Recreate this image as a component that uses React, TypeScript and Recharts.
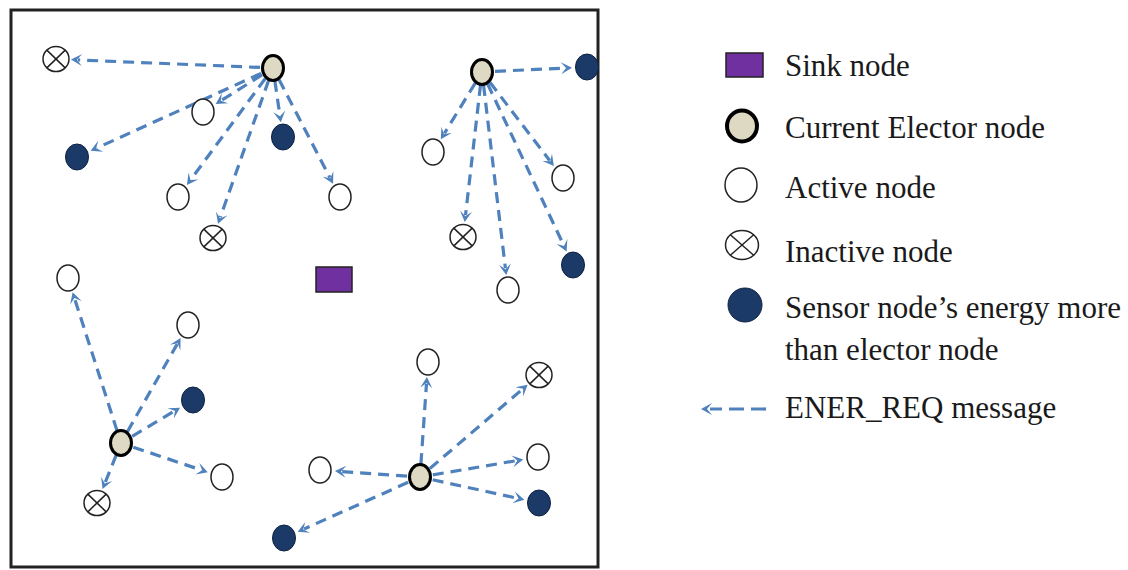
import React from 'react';
import { ScatterChart, Scatter, XAxis, YAxis, ReferenceLine, ReferenceArea, Legend } from 'recharts';

type Pt = { x: number; y: number };

// Diagram coordinate space: x to the right, y downward (0..1128, 0..570)
const sinkNodes: Pt[] = [{ x: 334, y: 279 }];
const electorNodes: Pt[] = [
  { x: 273, y: 68 },
  { x: 482, y: 72 },
  { x: 121, y: 443 },
  { x: 420, y: 477 },
];
const activeNodes: Pt[] = [
  { x: 203, y: 112 },
  { x: 178, y: 197 },
  { x: 340, y: 197 },
  { x: 433, y: 152 },
  { x: 563, y: 178 },
  { x: 508, y: 290 },
  { x: 68, y: 278 },
  { x: 188, y: 325 },
  { x: 222, y: 477 },
  { x: 428, y: 362 },
  { x: 538, y: 457 },
  { x: 320, y: 470 },
];
const inactiveNodes: Pt[] = [
  { x: 56, y: 59 },
  { x: 213, y: 238 },
  { x: 463, y: 237 },
  { x: 97, y: 503 },
  { x: 539, y: 375 },
];
const sensorNodes: Pt[] = [
  { x: 77, y: 157 },
  { x: 283, y: 137 },
  { x: 587, y: 67 },
  { x: 573, y: 265 },
  { x: 193, y: 400 },
  { x: 539, y: 503 },
  { x: 284, y: 538 },
];

// ENER_REQ messages: from an elector node to a neighbour
const messages: { from: number; to: Pt }[] = [
  { from: 0, to: inactiveNodes[0] },
  { from: 0, to: activeNodes[0] },
  { from: 0, to: sensorNodes[0] },
  { from: 0, to: sensorNodes[1] },
  { from: 0, to: activeNodes[1] },
  { from: 0, to: inactiveNodes[1] },
  { from: 0, to: activeNodes[2] },
  { from: 1, to: sensorNodes[2] },
  { from: 1, to: activeNodes[3] },
  { from: 1, to: inactiveNodes[2] },
  { from: 1, to: activeNodes[5] },
  { from: 1, to: activeNodes[4] },
  { from: 1, to: sensorNodes[3] },
  { from: 2, to: activeNodes[6] },
  { from: 2, to: activeNodes[7] },
  { from: 2, to: sensorNodes[4] },
  { from: 2, to: activeNodes[8] },
  { from: 2, to: inactiveNodes[3] },
  { from: 3, to: activeNodes[9] },
  { from: 3, to: inactiveNodes[4] },
  { from: 3, to: activeNodes[10] },
  { from: 3, to: sensorNodes[5] },
  { from: 3, to: activeNodes[11] },
  { from: 3, to: sensorNodes[6] },
];

const legendLabels = [
  'Sink node',
  'Current Elector node',
  'Active node',
  'Inactive node',
  'Sensor node\u2019s energy more',
  'than elector node',
  'ENER_REQ message',
];

const frameX: [number, number] = [11, 598];
const frameY: [number, number] = [10, 567];

const W = 1128;
const H = 570;

const ARROW = '#4F81BD';
const PURPLE = '#7030A0';
const TAN = '#DDD9C3';
const NAVY = '#1B3A68';
const INK = '#222';

const activeShape = (p: any) => (
  <ellipse cx={p.cx} cy={p.cy} rx={11} ry={13} fill="#fff" stroke={INK} strokeWidth={1.5} />
);
const electorShape = (p: any) => (
  <ellipse cx={p.cx} cy={p.cy} rx={10.5} ry={12.5} fill={TAN} stroke="#000" strokeWidth={3} />
);
const sensorShape = (p: any) => (
  <ellipse cx={p.cx} cy={p.cy} rx={11.5} ry={13} fill={NAVY} stroke="#0e2242" strokeWidth={1} />
);
const inactiveIcon = (cx: number, cy: number, rx: number, ry: number) => {
  const k = Math.SQRT1_2;
  return (
    <g>
      <ellipse cx={cx} cy={cy} rx={rx} ry={ry} fill="#fff" stroke={INK} strokeWidth={1.5} />
      <line x1={cx - rx * k} y1={cy - ry * k} x2={cx + rx * k} y2={cy + ry * k} stroke={INK} strokeWidth={1.5} />
      <line x1={cx - rx * k} y1={cy + ry * k} x2={cx + rx * k} y2={cy - ry * k} stroke={INK} strokeWidth={1.5} />
    </g>
  );
};
const inactiveShape = (p: any) => inactiveIcon(p.cx, p.cy, 13, 12.5);
const sinkShape = (p: any) => (
  <rect x={p.cx - 18} y={p.cy - 12} width={36} height={25} fill={PURPLE} stroke={INK} strokeWidth={1.5} />
);

const arrowHead = (tx: number, ty: number, ux: number, uy: number) => {
  const hl = 11;
  const hw = 6;
  const nx = -uy;
  const ny = ux;
  const bx = tx - ux * hl;
  const by = ty - uy * hl;
  const mx = tx - ux * 6;
  const my = ty - uy * 6;
  return (
    <polygon
      points={`${tx},${ty} ${bx + nx * hw},${by + ny * hw} ${mx},${my} ${bx - nx * hw},${by - ny * hw}`}
      fill={ARROW}
    />
  );
};

const arrowShape = (p: any) => {
  const { x1, y1, x2, y2 } = p;
  const dx = x2 - x1;
  const dy = y2 - y1;
  const len = Math.hypot(dx, dy) || 1;
  const ux = dx / len;
  const uy = dy / len;
  const sx = x1 + ux * 13;
  const sy = y1 + uy * 13;
  const tx = x2 - ux * 15;
  const ty = y2 - uy * 15;
  return (
    <g>
      <line
        x1={sx}
        y1={sy}
        x2={tx - ux * 7}
        y2={ty - uy * 7}
        stroke={ARROW}
        strokeWidth={3.2}
        strokeDasharray="11 7"
      />
      {arrowHead(tx, ty, ux, uy)}
    </g>
  );
};

const T = (props: { x: number; y: number; children: React.ReactNode }) => (
  <text x={props.x} y={props.y} style={{ fontFamily: 'Liberation Serif', fontSize: 31, fill: '#1a1a1a' }}>
    {props.children}
  </text>
);

const renderLegend = () => (
  <svg width={W} height={H} style={{ position: 'absolute', left: 0, top: 0, overflow: 'visible', fontFamily: 'Liberation Serif' }}>
    <rect x={726} y={53} width={37} height={24} fill={PURPLE} stroke={INK} strokeWidth={1.5} />
    <T x={785} y={76}>{legendLabels[0]}</T>

    <ellipse cx={742} cy={126} rx={15} ry={15.5} fill={TAN} stroke="#000" strokeWidth={4} />
    <T x={785} y={138}>{legendLabels[1]}</T>

    <ellipse cx={741} cy={185} rx={16} ry={17} fill="#fff" stroke={INK} strokeWidth={1.5} />
    <T x={785} y={198}>{legendLabels[2]}</T>

    {inactiveIcon(742, 245, 16.5, 14.5)}
    <T x={785} y={262}>{legendLabels[3]}</T>

    <ellipse cx={745} cy={305} rx={17} ry={17} fill={NAVY} stroke="#0e2242" strokeWidth={1} />
    <T x={785} y={318}>{legendLabels[4]}</T>
    <T x={785} y={360}>{legendLabels[5]}</T>

    <line x1={766} y1={409} x2={710} y2={409} stroke={ARROW} strokeWidth={3.2} strokeDasharray="15 7" />
    {arrowHead(701, 409, -1, 0)}
    <T x={785} y={418}>{legendLabels[6]}</T>
  </svg>
);

export default function App() {
  return (
    <div style={{ position: 'absolute', left: 0, top: 0, width: W, height: H, background: '#fff', fontFamily: 'Liberation Serif' }}>
      <ScatterChart width={W} height={H} margin={{ top: 0, right: 0, bottom: 0, left: 0 }}>
        <XAxis type="number" dataKey="x" domain={[0, W]} hide allowDataOverflow />
        <YAxis type="number" dataKey="y" domain={[0, H]} reversed hide allowDataOverflow />
        <ReferenceArea
          x1={frameX[0]}
          x2={frameX[1]}
          y1={frameY[0]}
          y2={frameY[1]}
          fill="none"
          fillOpacity={0}
          stroke="#222"
          strokeWidth={3}
          ifOverflow="visible"
        />
        {messages.map((m, i) => (
          <ReferenceLine
            key={i}
            segment={[electorNodes[m.from], m.to]}
            ifOverflow="visible"
            shape={arrowShape}
          />
        ))}
        <Scatter name="Sink node" data={sinkNodes} shape={sinkShape} isAnimationActive={false} />
        <Scatter name="Current Elector node" data={electorNodes} shape={electorShape} isAnimationActive={false} />
        <Scatter name="Active node" data={activeNodes} shape={activeShape} isAnimationActive={false} />
        <Scatter name="Inactive node" data={inactiveNodes} shape={inactiveShape} isAnimationActive={false} />
        <Scatter name="Sensor node" data={sensorNodes} shape={sensorShape} isAnimationActive={false} />
        <Legend
          layout="vertical"
          align="center"
          verticalAlign="middle"
          content={renderLegend}
          wrapperStyle={{ left: 0, top: 0, width: W, height: H, pointerEvents: 'none' }}
        />
      </ScatterChart>
    </div>
  );
}
